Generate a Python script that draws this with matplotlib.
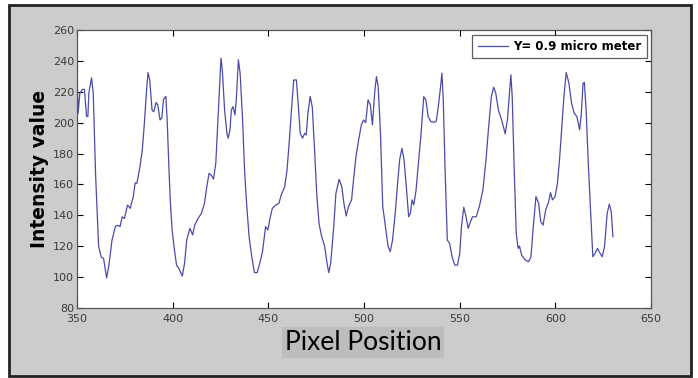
import matplotlib
matplotlib.use("Agg")
import matplotlib.pyplot as plt
from matplotlib.patches import Rectangle

# values
pixel = [350, 350.7, 351.6, 353, 354, 355.1, 355.8, 356.3, 357.7, 358.6, 359.8, 361.4, 362.8, 364,
         365.6, 366.7, 368.4, 370.2, 371.4, 372.6, 373.7, 374.9, 376.5, 377.9, 379.5, 380.5, 381.4,
         383, 384.2, 385.3, 386.5, 387.2, 388.1, 389.3, 390.2, 391.4, 392.3, 393.5, 394.4, 395.3,
         396.5, 397.2, 398.1, 398.8, 399.8, 400.9, 402.1, 403.3, 405.1, 406.3, 407.4, 409.1, 410.5,
         411.6, 413.3, 415.1, 416.7, 417.9, 419.1, 420.2, 421.4, 422.6, 423.7, 424.7, 425.3, 426,
         427.2, 428.4, 429.1, 430, 430.7, 431.6, 432.6, 433.3, 434.4, 435.3, 436.5, 437.7, 438.8,
         440, 441.4, 442.8, 444.2, 445.3, 447, 448.6, 449.8, 450.9, 452.1, 454, 455.6, 456.7, 458.6,
         459.8, 460.9, 462.1, 463.3, 464.7, 465.6, 466.7, 467.9, 469, 469.8, 470.7, 471.9, 473,
         474.2, 475.3, 476.5, 477.7, 479.5, 480.7, 481.6, 482.6, 484.2, 485.3, 487, 488.4, 489.5,
         490.7, 491.9, 493.5, 494.7, 495.8, 497.2, 498.6, 499.8, 500.9, 502.1, 503.3, 504.4, 505.6,
         506.5, 507.4, 508.6, 509.8, 511.2, 512.6, 513.7, 514.9, 516.3, 517.4, 518.6, 519.8, 520.9,
         522.1, 523.3, 524.2, 525.1, 526, 527.2, 528.4, 529.8, 531.2, 532.3, 533.5, 534.9, 536.5,
         537.7, 538.8, 540, 540.7, 541.4, 542.3, 543.5, 544.7, 546, 547.4, 548.8, 550, 550.9, 552.1,
         553.3, 554.4, 555.6, 556.7, 558.6, 560.2, 562.1, 563.7, 565.1, 566.5, 567.7, 568.8, 570.2,
         571.6, 572.8, 573.7, 574.9, 576, 576.7, 577.4, 578.4, 579.5, 580.5, 581.2, 582.3, 584.2,
         586, 587.2, 588.4, 589.8, 591.2, 592.3, 593.5, 594.9, 596.3, 597.4, 598.4, 599.8, 601,
         602.1, 603.3, 604.4, 605.6, 607, 608.4, 609.8, 611.2, 612.6, 613.5, 614.4, 615.1, 616,
         617.2, 618.4, 619.5, 620.7, 621.9, 623.3, 624.4, 625.6, 627, 628.1, 629.1, 630]
intensity = [239, 206, 219, 221.5, 221.5, 204, 204, 219, 229, 219, 167, 120, 113, 112,
             99.5, 107, 124, 133, 133.5, 132.7, 139, 138, 146.7, 144.5, 152, 161, 160.7,
             171.5, 182, 199.6, 222, 232.4, 227.6, 208, 207, 213, 211.4, 201.7, 203, 215,
             217, 201.7, 171.5, 150, 130.5, 118.6, 107.8, 105.7, 100.7, 109, 124, 131.6, 127.3,
             133.7, 138, 141.3, 147.8, 158.6, 167.2, 166, 163.5, 173.7, 201.7, 227.6, 241.7, 234,
             208, 193, 189.9, 195.3, 208, 210.4, 205, 214.7, 240.6, 232, 204, 167.2, 145.6,
             126, 113, 102.9, 102.9, 107.8, 116.5, 132.7, 130.5, 138, 144.5, 146.7, 147.8, 153, 158.6,
             169.4, 186.6, 208, 227.6, 227.6, 212.5, 193, 189.9, 193, 192, 206, 217, 210,
             182, 154, 134.8, 127.3, 119.7, 109, 102.9, 109, 132.7, 154, 163.3, 158.6, 147.8,
             139.6, 145.6, 150, 165, 178, 188.8, 198.5, 201.7, 200, 214.7, 211.4, 198.5, 220,
             229.8, 223.3, 193, 145.6, 132.7, 119.7, 116.5, 124, 141.3, 158.6, 175.8, 183.4, 175.8,
             158.6, 139.1, 141.3, 150, 146.7, 156.4, 173.7, 193, 216.8, 214.7, 204, 200.7, 200.2,
             200.7, 210.4, 223.3, 232, 214.7, 171.5, 124, 121.9, 113.2, 107.8, 107.8, 115.4, 132.7, 145.2,
             139.1, 131.6, 135.9, 139.1, 139.1, 145.6, 156.4, 175.8, 197.4, 216.8, 222.9, 219, 208,
             202.8, 197.4, 192.7, 201.7, 219, 230.9, 216.8, 171.5, 128.3, 118.6, 120.1, 114.3, 111.1,
             110, 113.2, 132.7, 152.1, 147.8, 135.9, 133.7, 143.5, 148.2, 154.7, 150, 152.1, 160.7,
             175.8, 197.4, 216.8, 232.4, 225.5, 212.5, 206, 203.9, 195.3, 206, 225.5, 226, 208,
             171.5, 141.3, 113.2, 115.4, 118.6, 115.4, 113.2, 119.7, 141.3, 147.3, 142.4, 126.2]
xticks = [350, 400, 450, 500, 550, 600, 650]
yticks = [80, 100, 120, 140, 160, 180, 200, 220, 240, 260]

tickfont = ['Liberation Sans Narrow', 'DejaVu Sans']

fig = plt.figure(figsize=(6.98, 3.78), dpi=100, facecolor='white')
fig.patches.append(Rectangle((0.013, 0.005), 0.977, 0.982, transform=fig.transFigure,
                             facecolor='#cccccc', edgecolor='#222222', linewidth=2, zorder=-5))

ax = fig.add_axes([0.110, 0.185, 0.823, 0.736])
ax.set_zorder(2)
ax.plot(pixel, intensity, color='#4b4ba8', linewidth=0.9, label='Y= 0.9 micro meter')
ax.set_xlim(350, 650)
ax.set_ylim(80, 260)
ax.set_xticks(xticks)
ax.set_yticks(yticks)
ax.tick_params(direction='in', top=True, right=True, length=4, width=0.8,
               labelsize=8, labelcolor='#3a3a3a', pad=2)
ax.tick_params(axis='x', pad=4)
for lab in ax.get_xticklabels() + ax.get_yticklabels():
    lab.set_family(tickfont)
for s in ax.spines.values():
    s.set_color('#555555')
    s.set_linewidth(0.9)

leg = ax.legend(loc='upper right', fancybox=False, handlelength=2.6, borderaxespad=0.4,
                handletextpad=0.4, borderpad=0.45,
                prop={'family': tickfont, 'size': 8.5, 'weight': 'bold'})
leg.get_frame().set_edgecolor('#333333')
leg.get_frame().set_linewidth(0.9)

ax.set_ylabel('Intensity value', fontsize=13.5, fontweight='bold', labelpad=3)
fig.text(0.52, 0.093, 'Pixel Position', ha='center', va='center', fontsize=19,
         family=['Lato', 'DejaVu Sans'], zorder=3,
         bbox=dict(facecolor='#bdbdbd', edgecolor='none', pad=2))

fig.savefig('out.png', dpi=100, facecolor=fig.get_facecolor())
